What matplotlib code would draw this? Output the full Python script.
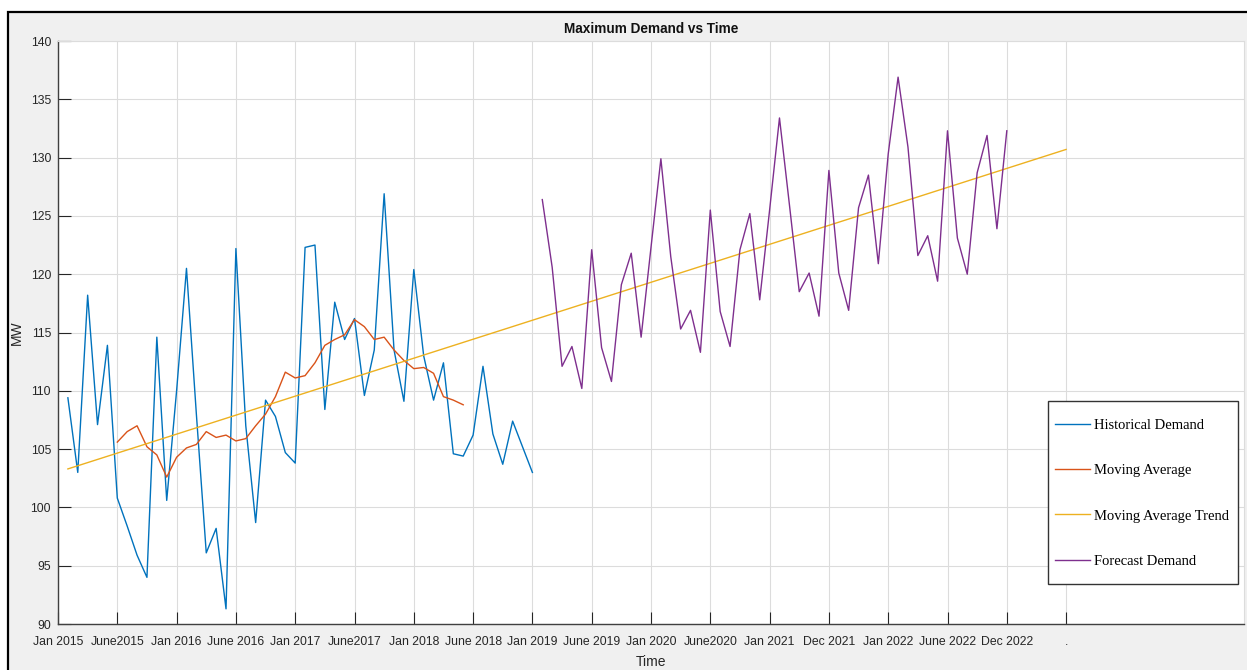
import numpy as np
import matplotlib
matplotlib.use('Agg')
import matplotlib.pyplot as plt
from matplotlib.patches import Rectangle

# month index 1 = Jan 2015
hist_month = list(range(1, 49))
hist_mw = [109.4, 103.0, 118.2, 107.1, 113.9, 100.8, 98.4, 95.9, 94.0, 114.6,
           100.6, 110.0, 120.5, 108.0, 96.1, 98.2, 91.3, 122.2, 107.0, 98.7,
           109.2, 107.8, 104.7, 103.8, 122.3, 122.5, 108.4, 117.6, 114.4, 116.2,
           109.6, 113.5, 126.9, 113.5, 109.1, 120.4, 113.0, 109.2, 112.4, 104.6,
           104.4, 106.2, 112.1, 106.3, 103.7, 107.4, 105.2, 103.0]

ma_month = list(range(6, 42))
ma_mw = [105.6, 106.5, 107.0, 105.2, 104.5, 102.6, 104.3, 105.1, 105.4, 106.5,
         106.0, 106.2, 105.7, 105.9, 107.0, 108.0, 109.5, 111.6, 111.1, 111.3,
         112.4, 113.9, 114.4, 114.8, 116.1, 115.5, 114.4, 114.6, 113.5, 112.6,
         111.9, 112.0, 111.5, 109.5, 109.2, 108.8]

trend_month = [1, 102]
trend_mw = [103.3, 130.7]

fc_month = list(range(49, 97))
fc_mw = [126.4, 120.6, 112.1, 113.8, 110.2, 122.1, 113.7, 110.8, 119.1, 121.8,
         114.6, 122.3, 129.9, 121.5, 115.3, 116.9, 113.3, 125.5, 116.8, 113.8,
         122.1, 125.2, 117.8, 125.5, 133.4, 126.0, 118.5, 120.1, 116.4, 128.9,
         120.1, 116.9, 125.7, 128.5, 120.9, 130.3, 136.9, 130.9, 121.6, 123.3,
         119.4, 132.3, 123.1, 120.0, 128.7, 131.9, 123.9, 132.3]

tick_pos = list(range(0, 103, 6))
tick_labels = ['Jan 2015', 'June2015', 'Jan 2016', 'June 2016', 'Jan 2017',
               'June2017', 'Jan 2018', 'June 2018', 'Jan 2019', 'June 2019',
               'Jan 2020', 'June2020', 'Jan 2021', 'Dec 2021', 'Jan 2022',
               'June 2022', 'Dec 2022', '.']

W, H = 1247, 670
sans = ['Liberation Sans', 'DejaVu Sans']
fig = plt.figure(figsize=(W / 100, H / 100), dpi=100)
fig.patch.set_facecolor('white')
# grey MATLAB-like figure panel with black border (cropped on right/bottom)
fig.add_artist(Rectangle((8 / W, -0.05), 1.2, 1 - 12 / H + 0.05,
                         transform=fig.transFigure, facecolor='#f0f0f0',
                         edgecolor='black', lw=1.6, zorder=-5))

ax = fig.add_axes([58 / W, 46 / H, 1186 / W, 583 / H])
ax.set_facecolor('white')

ax.plot(hist_month, hist_mw, color='#0072BD', lw=1.0, label='Historical Demand')
ax.plot(ma_month, ma_mw, color='#D95319', lw=1.0, label='Moving Average')
ax.plot(trend_month, trend_mw, color='#EDB120', lw=1.0, label='Moving Average Trend')
ax.plot(fc_month, fc_mw, color='#7E2F8E', lw=1.0, label='Forecast Demand')

ax.set_xlim(0, 120)
ax.set_ylim(90, 140)
ax.set_xticks(tick_pos)
ax.set_xticklabels(tick_labels)
ax.set_yticks(range(90, 141, 5))

for lab in ax.get_xticklabels() + ax.get_yticklabels():
    lab.set_fontfamily(sans)
    lab.set_fontsize(8.8)
    lab.set_color('#262626')

ax.tick_params(direction='in', length=9, width=0.8, color='#262626')
ax.tick_params(axis='x', pad=8.5)
ax.tick_params(axis='y', pad=5)
ax.grid(True, color='#dcdcdc', lw=0.8)
ax.set_axisbelow(True)
for side in ['left', 'bottom']:
    ax.spines[side].set_color('#404040')
    ax.spines[side].set_linewidth(1.0)
for side in ['top', 'right']:
    ax.spines[side].set_color('#dcdcdc')
    ax.spines[side].set_linewidth(0.8)

ax.set_title('Maximum Demand vs Time', fontsize=9.8, fontweight='bold',
             family=sans, color='#111111', pad=6)
ax.set_xlabel('Time', fontsize=10, family=sans, color='#262626', labelpad=5)
ax.set_ylabel('MW', fontsize=10, family=sans, color='#262626', labelpad=5)

# legend box drawn separately so its size matches the original
ax.add_patch(Rectangle((0.8347, 0.0681), 0.9949 - 0.8347, 0.383 - 0.0681,
                       transform=ax.transAxes, facecolor='white',
                       edgecolor='#333333', lw=1.0, zorder=4))
leg = ax.legend(loc='upper left', bbox_to_anchor=(0.8406, 0.352),
                borderaxespad=0, borderpad=0, frameon=False,
                handlelength=2.4, handletextpad=0.27, labelspacing=2.2,
                prop={'family': ['Liberation Serif', 'DejaVu Serif'], 'size': 10.5})
leg.set_zorder(5)

fig.savefig('out.png', dpi=100)
